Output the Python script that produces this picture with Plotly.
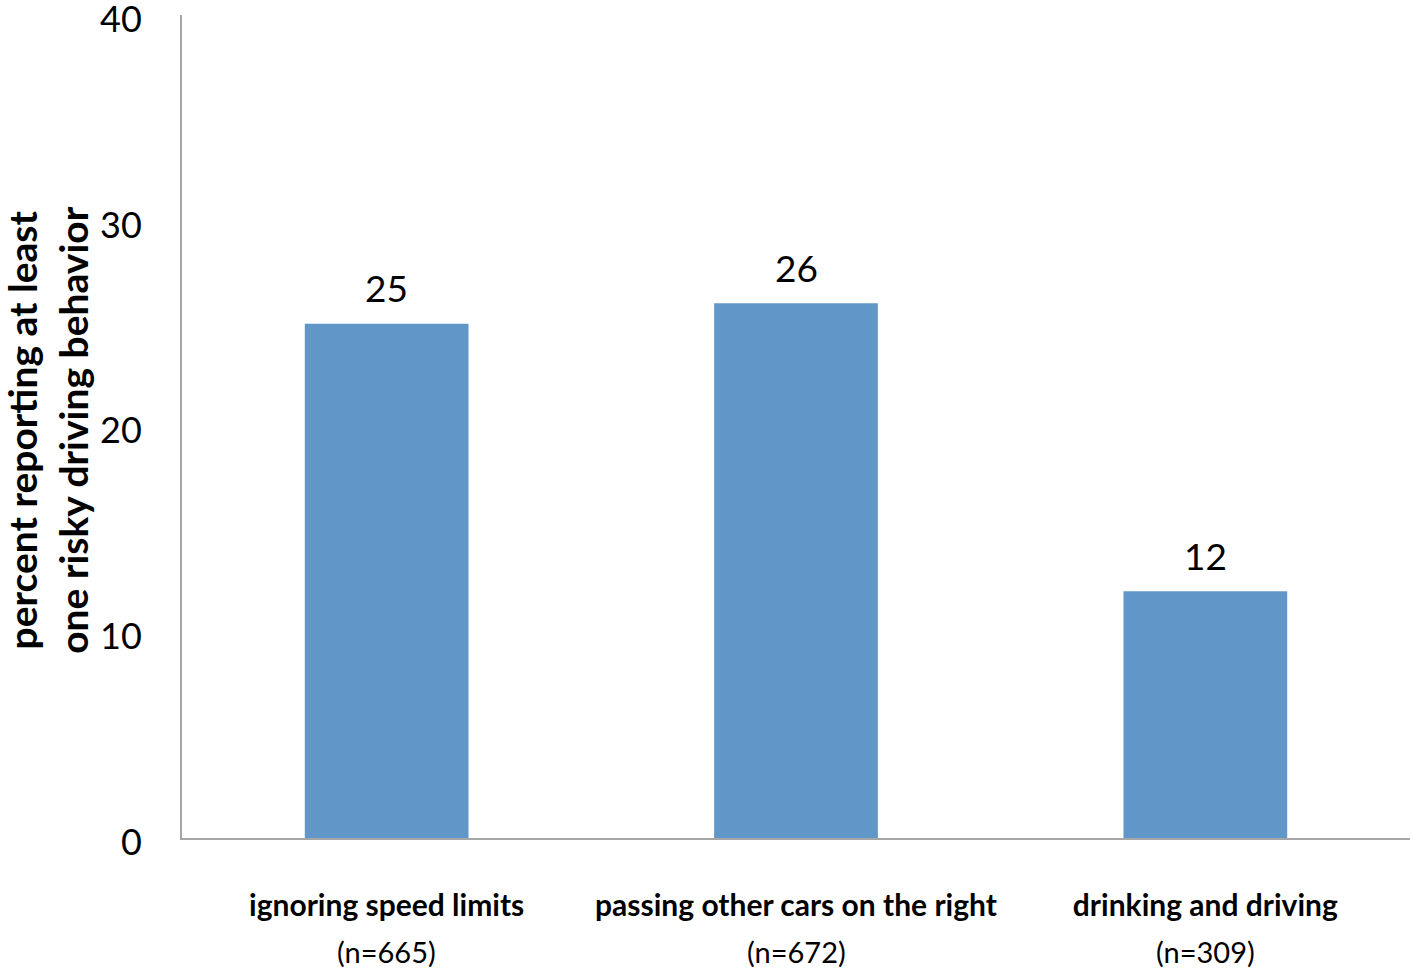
import plotly.graph_objects as go

categories = ["ignoring speed limits", "passing other cars on the right", "drinking and driving"]
sample_sizes = ["(n=665)", "(n=672)", "(n=309)"]
values = [25, 26, 12]
y_ticks = [0, 10, 20, 30, 40]
y_title = "<b>percent reporting at least<br>one risky driving behavior</b>"

FONT = "Lato, 'Open Sans', sans-serif"
BAR_COLOR = "#6197C8"
AXIS_COLOR = "#A6A6A6"
TOP_PAD = 40  # extra paper above the plot so the top tick label is not clipped

fig = go.Figure()
fig.add_trace(go.Bar(
    x=categories,
    y=values,
    marker=dict(color=BAR_COLOR, line=dict(width=0)),
    width=0.4,
    hoverinfo="x+y",
))

# value labels above bars
for cat, v in zip(categories, values):
    fig.add_annotation(
        x=cat, y=v, xref="x", yref="y",
        text=str(v), showarrow=False,
        yanchor="middle", yshift=36,
        font=dict(family=FONT, size=37, color="black"),
    )

# sample size lines under category labels
for cat, n in zip(categories, sample_sizes):
    fig.add_annotation(
        x=cat, y=0, xref="x", yref="y",
        text=n, showarrow=False,
        yanchor="middle", yshift=-113,
        font=dict(family=FONT, size=29, color="black"),
    )

# y-axis title (rotated)
fig.add_annotation(
    x=0, y=0.496, xref="paper", yref="paper",
    text=y_title, showarrow=False, textangle=-90,
    xanchor="center", yanchor="middle", xshift=-134,
    font=dict(family=FONT, size=39, color="black"),
)

fig.update_layout(
    width=1410, height=971 + TOP_PAD,
    margin=dict(l=182, r=0, t=15 + TOP_PAD, b=133),
    paper_bgcolor="white", plot_bgcolor="white",
    showlegend=False,
    font=dict(family=FONT, color="black"),
    xaxis=dict(
        tickmode="array",
        tickvals=categories,
        ticktext=[f"<b>{c}</b>" for c in categories],
        tickfont=dict(family=FONT, size=30, color="black"),
        showline=True, linecolor=AXIS_COLOR, linewidth=2,
        showgrid=False, ticks="", ticklabelstandoff=40,
        zeroline=False, automargin=False,
    ),
    yaxis=dict(
        range=[0, 40.01],
        tickmode="array",
        tickvals=y_ticks,
        tickfont=dict(family=FONT, size=36, color="black"),
        showline=True, linecolor=AXIS_COLOR, linewidth=2,
        showgrid=False, ticks="", ticklabelstandoff=31, ticklabelshift=4,
        zeroline=False, automargin=False,
    ),
)

fig.write_html(
    "out.html",
    config={"displayModeBar": False},
    post_script=(
        "document.body.style.margin='0';"
        "document.body.style.overflow='hidden';"
        f"document.body.style.marginTop='-{TOP_PAD}px';"
    ),
)
